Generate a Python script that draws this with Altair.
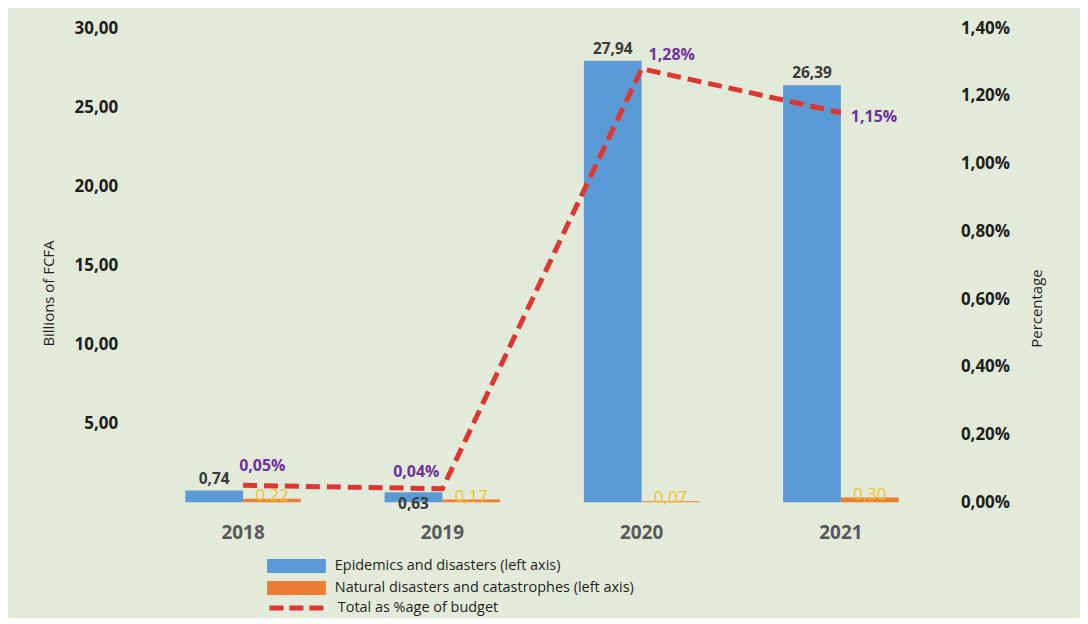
import altair as alt
import pandas as pd

years = ["2018", "2019", "2020", "2021"]
epidemics = [0.74, 0.63, 27.94, 26.39]
natural = [0.22, 0.17, 0.07, 0.30]
pct_budget = [0.05, 0.04, 1.28, 1.15]
series_names = ["Epidemics and disasters (left axis)",
                "Natural disasters and catastrophes (left axis)"]
line_name = "Total as %age of budget"
left_ticks = [5, 10, 15, 20, 25, 30]
right_ticks = [0, 0.2, 0.4, 0.6, 0.8, 1.0, 1.2, 1.4]

FONT = "Open Sans"
BLUE = "#5b9bd5"
ORANGE = "#ed7d31"
RED = "#de3731"
GOLD = "#f2bf2a"
PURPLE = "#7030a0"
BG = "#e2ebd9"


def fmt(v, pct=False):
    s = f"{v:.2f}".replace(".", ",")
    return s + "%" if pct else s


bars_df = pd.DataFrame({
    "year": years * 2,
    "series": [series_names[0]] * 4 + [series_names[1]] * 4,
    "value": epidemics + natural,
})
bars_df["label"] = [fmt(v) for v in bars_df["value"]]

line_df = pd.DataFrame({"year": years, "pct": pct_budget, "series": line_name})
line_df["label"] = [fmt(v, True) for v in pct_budget]

x_enc = alt.X(
    "year:N",
    scale=alt.Scale(domain=years, paddingInner=0.42, paddingOuter=0.21),
    axis=alt.Axis(title=None, labelAngle=0, labelFont=FONT, labelFontSize=19,
                  labelFontWeight="bold", labelColor="#595959", labelPadding=21,
                  ticks=False, domain=False, grid=False),
)
xoff = alt.XOffset("series:N", scale=alt.Scale(domain=series_names))

y_left = alt.Y(
    "value:Q",
    scale=alt.Scale(domain=[0, 30], nice=False),
    axis=alt.Axis(orient="left", values=left_ticks,
                  labelExpr="replace(format(datum.value, '.2f'), '.', ',')",
                  labelFont=FONT, labelFontSize=17, labelFontWeight="bold",
                  labelColor="#1e1e1e", labelPadding=26, ticks=False,
                  domain=False, grid=False, title="Billions of FCFA",
                  titleFont=FONT, titleFontSize=15, titleFontWeight="normal",
                  titleColor="#1e1e1e", titlePadding=18, titleY=266),
)

y_right = alt.Y(
    "pct:Q",
    scale=alt.Scale(domain=[0, 1.4], nice=False),
    axis=alt.Axis(orient="right", values=right_ticks,
                  labelExpr="replace(format(datum.value, '.2f'), '.', ',') + '%'",
                  labelFont=FONT, labelFontSize=17, labelFontWeight="bold",
                  labelColor="#1e1e1e", labelPadding=20, ticks=False,
                  domain=False, grid=False, title="Percentage",
                  titleFont=FONT, titleFontSize=15, titleFontWeight="normal",
                  titleColor="#1e1e1e", titlePadding=20, titleY=281,
                  titleAngle=270, titleBaseline="top"),
)

bar_legend = alt.Legend(
    title=None, orient="none", legendX=124, legendY=533,
    symbolType="M-1,-0.24L1,-0.24L1,0.24L-1,0.24Z", symbolSize=3481,
    symbolStrokeWidth=0, clipHeight=14, rowPadding=7, padding=0,
    labelFont=FONT, labelFontSize=14.5, labelColor="#1e1e1e", labelOffset=9,
    labelLimit=0,
)
line_legend = alt.Legend(
    title=None, orient="none", legendX=124, legendY=575,
    symbolType="stroke", symbolSize=3025, symbolStrokeWidth=5,
    symbolDash=[14, 6], clipHeight=14, padding=0,
    labelFont=FONT, labelFontSize=14.5, labelColor="#1e1e1e", labelOffset=11,
    labelLimit=0,
)

bars = alt.Chart(bars_df).mark_bar().encode(
    x=x_enc, xOffset=xoff, y=y_left,
    color=alt.Color("series:N", scale=alt.Scale(domain=series_names,
                                                range=[BLUE, ORANGE]),
                    legend=bar_legend),
)

epi_above = alt.Chart(bars_df).transform_filter(
    (alt.datum.series == series_names[0]) & (alt.datum.year != "2019")
).mark_text(font=FONT, fontSize=15.5, fontWeight="bold", color="#3a3a3a",
            dy=-12, baseline="middle").encode(
    x=x_enc, xOffset=xoff, y=y_left, text="label:N")

epi_below = alt.Chart(bars_df).transform_filter(
    (alt.datum.series == series_names[0]) & (alt.datum.year == "2019")
).mark_text(font=FONT, fontSize=15.5, fontWeight="bold", color="#3a3a3a",
            dy=12, baseline="middle").encode(
    x=x_enc, xOffset=xoff, y=y_left, text="label:N")

nat_text = alt.Chart(bars_df).transform_filter(
    alt.datum.series == series_names[1]
).mark_text(font=FONT, fontSize=17, color=GOLD, dy=-3,
            baseline="middle").encode(
    x=x_enc, xOffset=xoff, y=y_left, text="label:N")

left = alt.layer(bars, epi_above, epi_below, nat_text)

line = alt.Chart(line_df).mark_line(strokeWidth=5, strokeDash=[14, 7]).encode(
    x=x_enc, y=y_right,
    stroke=alt.Stroke("series:N", scale=alt.Scale(domain=[line_name], range=[RED]),
                      legend=line_legend),
)


def pct_text(year, **kw):
    return alt.Chart(line_df).transform_filter(alt.datum.year == year).mark_text(
        font=FONT, fontSize=16, fontWeight="bold", color=PURPLE,
        baseline="middle", **kw).encode(x=x_enc, y=y_right, text="label:N")


pct_a = pct_text("2018", align="left", dx=-4, dy=-19)
pct_b = pct_text("2019", align="right", dx=-3, dy=-17)
pct_c = pct_text("2020", align="left", dx=7, dy=-14)
pct_d = pct_text("2021", align="left", dx=10, dy=4)

right = alt.layer(line, pct_a, pct_b, pct_c, pct_d)

chart = alt.layer(left, right).resolve_scale(
    y="independent"
).properties(
    width=800, height=476,
    autosize=alt.AutoSizeParams(type="none"),
    padding={"left": 136, "top": 19, "right": 140, "bottom": 115},
    background=BG,
).configure_view(stroke=None)

chart.save("out.html", embed_options={"renderer": "svg", "actions": False})
